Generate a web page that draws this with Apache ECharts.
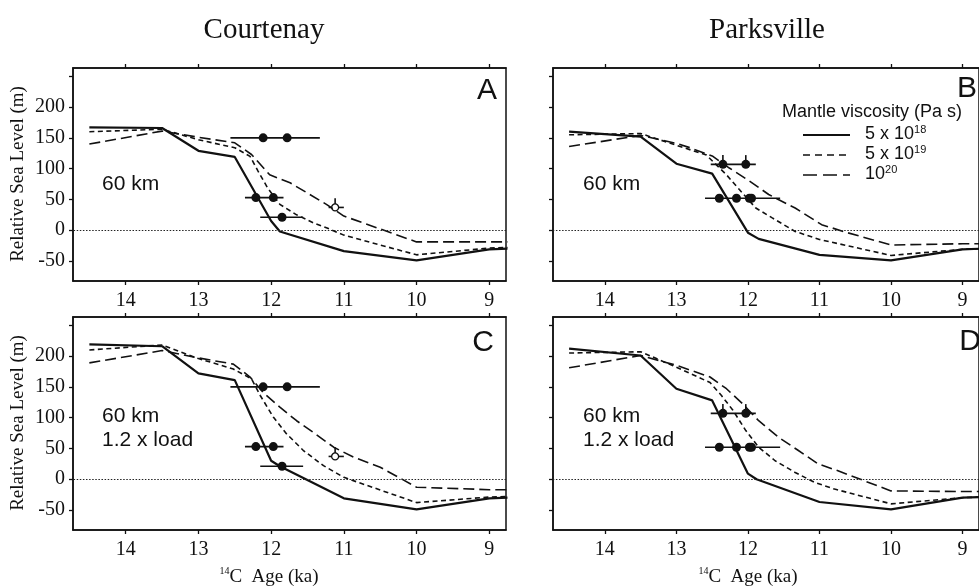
<!DOCTYPE html>
<html>
<head>
<meta charset="utf-8">
<script src="https://cdn.jsdelivr.net/npm/echarts@6/dist/echarts.min.js"></script>
<style>html,body{margin:0;padding:0;background:#fff}#c{width:979px;height:586px}</style>
</head>
<body>
<div id="c"></div>
<script>
// ---- tick labels ----
const xTicks = [9, 10, 11, 12, 13, 14];
const yTicks = [-50, 0, 50, 100, 150, 200, 250];
const yLabels = [-50, 0, 50, 100, 150, 200];

// ---- model curves (x = 14C age ka, y = relative sea level m) ----
// Panel A: Courtenay, 60 km
const A_visc18 = [[14.5,167],[13.5,166],[13,129],[12.5,119],[12,15],[11.88,-2],[11,-34],[10,-49],[9,-31],[8.75,-30]];
const A_visc19 = [[14.5,160],[13.5,164],[13,147],[12.5,134],[12.29,120],[12.18,96],[12.05,69],[11.88,42],[11.65,25],[11.42,12],[11.24,4],[11,-8],[10,-40],[9,-29],[8.75,-28]];
const A_visc20 = [[14.5,140],[13.5,161],[13,151],[12.5,142],[12.27,123],[12.02,90],[11.74,77],[11.51,61],[11.24,42],[11,23],[10,-19],[9,-19],[8.75,-19]];
// Panel B: Parksville, 60 km
const B_visc18 = [[14.5,160],[13.5,152],[13,108],[12.5,92],[12,-4],[11.85,-14],[11,-40],[10,-49],[9,-31],[8.75,-30]];
const B_visc19 = [[14.5,155],[13.5,157],[13,138],[12.58,122],[12.3,90],[12.12,66],[11.89,36],[11.66,20],[11.34,-2],[11,-15],[10,-41],[9,-31],[8.75,-30]];
const B_visc20 = [[14.5,136],[13.5,154],[13,141],[12.81,134],[12.49,120],[12.26,101],[11.98,80],[11.71,58],[11.34,36],[10.97,9],[10.61,-4],[10,-24],[9,-22],[8.75,-22]];
// Panel C: Courtenay, 60 km, 1.2 x load
const C_visc18 = [[14.5,219],[13.5,216],[13,172],[12.5,161],[12,30],[11.88,21],[11,-31],[10,-49],[9,-31],[8.75,-30]];
const C_visc19 = [[14.5,210],[13.5,218],[13,196],[12.52,179],[12.27,163],[12.15,136],[11.97,101],[11.79,74],[11.56,47],[11.28,22],[11,3],[10,-38],[9,-29],[8.75,-28]];
const C_visc20 = [[14.5,189],[13.5,209],[13,197],[12.52,187],[12.29,166],[12.11,141],[11.88,117],[11.65,95],[11.42,76],[11.14,52],[10.87,36],[10.5,19.5],[10,-13],[9,-17],[8.75,-17]];
// Panel D: Parksville, 60 km, 1.2 x load
const D_visc18 = [[14.5,212],[13.5,201],[13,147],[12.5,128],[12,9],[11.88,0],[11,-37],[10,-49],[9,-30],[8.75,-29]];
const D_visc19 = [[14.5,205],[13.5,207],[13,182],[12.53,157],[12.37,136],[12.21,112],[12.03,79],[11.85,52],[11.62,30],[11.34,11],[11.07,-5],[10.79,-16],[10,-40],[9,-30],[8.75,-29]];
const D_visc20 = [[14.5,181],[13.5,201],[13,185],[12.53,166],[12.3,147],[12.07,122],[11.85,95],[11.57,68],[11.3,47],[11.02,25],[10.75,14],[10,-19],[9,-20],[8.75,-20]];

// ---- observations ----
const courtFilled = [[12.11,150],[11.78,150],[12.21,53],[11.97,53],[11.85,21]];
const courtOpen = [[11.12,37]];
// error bar segments [x1, y1, x2, y2]
const courtErr = [[12.56,150,11.33,150],[12.36,53,11.83,53],[12.15,21,11.56,21],[11.21,37,11.0,37],[11.12,37,11.12,52]];
const parkFilled = [[12.35,107],[12.03,107],[12.40,52],[12.16,52],[11.98,52],[11.95,52]];
const parkErr = [[12.52,107,11.89,107],[12.60,52,11.55,52],[12.35,107,12.35,122],[12.03,107,12.03,122]];

const panels = [
  {left: 73,  top: 68,  s18: A_visc18, s19: A_visc19, s20: A_visc20, filled: courtFilled, open: courtOpen, err: courtErr, yLab: true},
  {left: 553, top: 68,  s18: B_visc18, s19: B_visc19, s20: B_visc20, filled: parkFilled, open: [], err: parkErr, yLab: false},
  {left: 73,  top: 317, s18: C_visc18, s19: C_visc19, s20: C_visc20, filled: courtFilled, open: courtOpen, err: courtErr, yLab: true},
  {left: 553, top: 317, s18: D_visc18, s19: D_visc19, s20: D_visc20, filled: parkFilled, open: [], err: parkErr, yLab: false}
];

const INK = '#111';
const SERIF = 'Liberation Serif';
const SANS = 'Liberation Sans';
const grid = [], xAxis = [], yAxis = [], series = [];

panels.forEach((p, i) => {
  grid.push({left: p.left, top: p.top, width: 433, height: 213, show: true,
    borderColor: INK, borderWidth: 1.5, backgroundColor: 'transparent', containLabel: false});
  const xBase = {gridIndex: i, type: 'value', inverse: true, min: 8.77, max: 14.725,
    axisLine: {show: true, onZero: false, lineStyle: {color: INK, width: 1.5}},
    axisTick: {show: true, inside: false, length: 4, lineStyle: {color: INK, width: 1.3}, customValues: xTicks},
    splitLine: {show: false}};
  xAxis.push(Object.assign({}, xBase, {position: 'bottom',
    axisLabel: {show: true, customValues: xTicks, margin: 10, fontFamily: SERIF, fontSize: 20, color: INK}}));
  xAxis.push(Object.assign({}, xBase, {position: 'top', axisLabel: {show: false}}));
  yAxis.push({gridIndex: i, type: 'value', min: -82.5, max: 263.5, position: 'left',
    axisLine: {show: true, onZero: false, lineStyle: {color: INK, width: 1.5}},
    axisTick: {show: true, inside: false, length: 4, lineStyle: {color: INK, width: 1.3}, customValues: yTicks},
    axisLabel: {show: p.yLab, customValues: yLabels, margin: 8, fontFamily: SERIF, fontSize: 20, color: INK},
    splitLine: {show: false}});
  const xi = i * 2;
  const lineSeries = (data, width, dash) => ({type: 'line', xAxisIndex: xi, yAxisIndex: i, data: data,
    showSymbol: false, symbol: 'none', silent: true, clip: true,
    lineStyle: {color: INK, width: width, type: dash, opacity: 1}});
  const l18 = lineSeries(p.s18, 2.2, 'solid');
  l18.markLine = {silent: true, symbol: 'none', label: {show: false},
    lineStyle: {color: '#222', width: 1.2, type: [1.5, 1.6]}, data: [{yAxis: 0}]};
  series.push(l18);
  series.push(lineSeries(p.s19, 1.6, [5, 3.5]));
  series.push(lineSeries(p.s20, 1.6, [11, 5]));
  series.push({type: 'custom', xAxisIndex: xi, yAxisIndex: i, data: p.err, silent: true,
    encode: {x: [0, 2], y: [1, 3]},
    renderItem: (params, api) => {
      const a = api.coord([api.value(0), api.value(1)]);
      const b = api.coord([api.value(2), api.value(3)]);
      return {type: 'line', shape: {x1: a[0], y1: a[1], x2: b[0], y2: b[1]},
        style: {stroke: INK, lineWidth: 1.6}};
    }});
  series.push({type: 'scatter', xAxisIndex: xi, yAxisIndex: i, data: p.filled, silent: true,
    symbol: 'circle', symbolSize: 9, itemStyle: {color: INK, opacity: 1}});
  if (p.open.length) series.push({type: 'scatter', xAxisIndex: xi, yAxisIndex: i, data: p.open, silent: true,
    symbol: 'circle', symbolSize: 7, itemStyle: {color: '#fff', borderColor: INK, borderWidth: 1.3, opacity: 1}});
});

const txt = (x, y, text, font, size, align, extra) => Object.assign({type: 'text', x: x, y: y, silent: true,
  style: {text: text, fontFamily: font, fontSize: size, fill: INK, align: align || 'left', verticalAlign: 'middle'}}, extra || {});

const supRich = (size, supSize) => ({
  n: {fontSize: size, lineHeight: size + 2, fill: INK},
  sup: {fontSize: supSize, lineHeight: supSize, verticalAlign: 'top', fill: INK}
});

const graphic = [
  txt(264, 30, 'Courtenay', SERIF, 29, 'center'),
  txt(767, 30, 'Parksville', SERIF, 29, 'center'),
  txt(487, 91, 'A', SANS, 30, 'center'),
  txt(967, 89, 'B', SANS, 30, 'center'),
  txt(483, 343, 'C', SANS, 30, 'center'),
  txt(970, 342, 'D', SANS, 30, 'center'),
  txt(102, 184, '60 km', SANS, 21),
  txt(583, 184, '60 km', SANS, 21),
  txt(102, 416, '60 km', SANS, 21),
  txt(102, 440, '1.2 x load', SANS, 21),
  txt(583, 416, '60 km', SANS, 21),
  txt(583, 440, '1.2 x load', SANS, 21),
  txt(18, 174, 'Relative Sea Level (m)', SERIF, 19, 'center', {rotation: Math.PI / 2}),
  txt(18, 423, 'Relative Sea Level (m)', SERIF, 19, 'center', {rotation: Math.PI / 2}),
  {type: 'text', x: 269, y: 577, silent: true, style: {text: '{sup|14}{n|C  Age (ka)}', fontFamily: SERIF, fontSize: 19,
    align: 'center', verticalAlign: 'middle', rich: supRich(19, 10)}},
  {type: 'text', x: 748, y: 577, silent: true, style: {text: '{sup|14}{n|C  Age (ka)}', fontFamily: SERIF, fontSize: 19,
    align: 'center', verticalAlign: 'middle', rich: supRich(19, 10)}},
  // legend
  txt(782, 112, 'Mantle viscosity (Pa s)', SANS, 18),
  {type: 'line', silent: true, shape: {x1: 803, y1: 135, x2: 850, y2: 135}, style: {stroke: INK, lineWidth: 2}},
  {type: 'line', silent: true, shape: {x1: 803, y1: 155, x2: 850, y2: 155}, style: {stroke: INK, lineWidth: 1.5, lineDash: [7, 5]}},
  {type: 'line', silent: true, shape: {x1: 803, y1: 175, x2: 850, y2: 175}, style: {stroke: INK, lineWidth: 1.5, lineDash: [14, 6]}},
  {type: 'text', x: 865, y: 134, silent: true, style: {text: '{n|5 x 10}{sup|18}', fontFamily: SANS, fontSize: 18, verticalAlign: 'middle', rich: supRich(18, 11)}},
  {type: 'text', x: 865, y: 154, silent: true, style: {text: '{n|5 x 10}{sup|19}', fontFamily: SANS, fontSize: 18, verticalAlign: 'middle', rich: supRich(18, 11)}},
  {type: 'text', x: 865, y: 174, silent: true, style: {text: '{n|10}{sup|20}', fontFamily: SANS, fontSize: 18, verticalAlign: 'middle', rich: supRich(18, 11)}}
];
graphic.forEach(g => { if (g.style && g.style.rich) { Object.values(g.style.rich).forEach(r => r.fontFamily = g.style.fontFamily); } });

const chart = echarts.init(document.getElementById('c'), null, {renderer: 'canvas'});
chart.setOption({backgroundColor: '#fff', animation: false, grid, xAxis, yAxis, series, graphic});
</script>
</body>
</html>
